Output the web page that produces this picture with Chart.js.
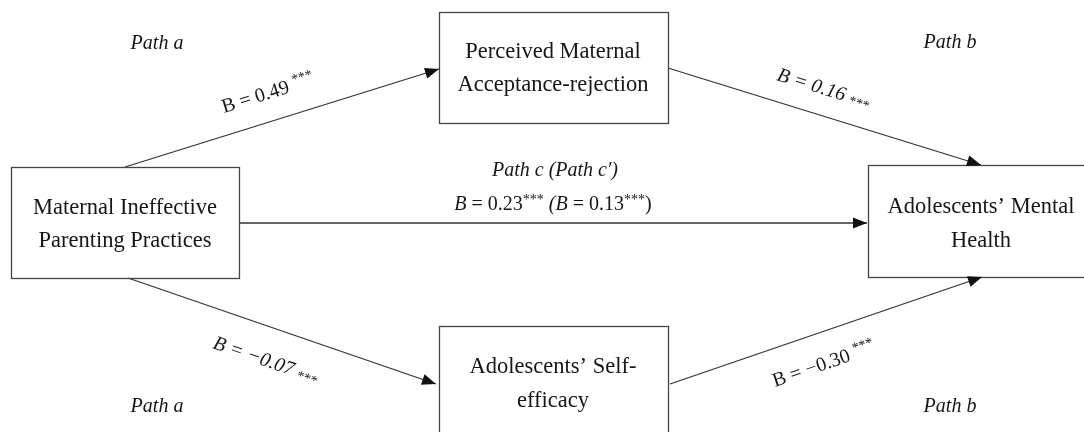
<!DOCTYPE html>
<html>
<head>
<meta charset="utf-8">
<script src="https://cdn.jsdelivr.net/npm/chart.js@4.4.0/dist/chart.umd.min.js"></script>
<style>
html,body{margin:0;padding:0;background:#fff;overflow:hidden;}
#wrap{width:1084px;height:432px;}
</style>
</head>
<body>
<div id="wrap"><canvas id="c" width="1084" height="432"></canvas></div>
<script>
// ---------- DATA ----------
const nodeLabels = [
  ["Maternal Ineffective", "Parenting Practices"],
  ["Perceived Maternal", "Acceptance-rejection"],
  ["Adolescents\u2019 Self-", "efficacy"],
  ["Adolescents\u2019 Mental", "Health"]
];
// edges: a1, b1, a2, b2, c
const pathNames = ["Path a", "Path b", "Path a", "Path b", "Path c (Path c\u2032)"];
const coefficients = [0.49, 0.16, -0.07, -0.30, 0.23];
const directCoefficient = 0.13;
const significance = ["***", "***", "***", "***", "***"];
const edgeFrom = [0, 1, 0, 2, 0];
const edgeTo   = [1, 3, 2, 3, 3];

// ---------- LAYOUT (pixel-space of a 0..1084 x 0..432 scale) ----------
const nodeBoxes = [
  [11, 167, 239, 278],
  [439, 12, 668, 123],
  [439, 326, 668, 437],
  [868, 165, 1096, 277]
];
const nodeTextX = [125, 553, 553, 981];
const nodeTextBaselines = [[214, 247], [58, 91], [373, 407], [213, 247]];
const edgeStart = [[125, 167], [668, 68], [128, 278], [670, 384], [240, 223]];
const edgeEnd   = [[439, 69], [981, 165], [436, 384], [982, 277], [867, 223]];
const pathNamePos = [[157, 49], [950, 48], [157, 412], [950, 412], [555, 176]];
const coefPos = [[224, 113], [776, 80], [212, 348], [775, 387], [553, 210]];
const coefItalicB = [false, true, true, false, true];
const coefItalicNum = [false, true, true, false, false];
const starShift = [-7, 2, 2, -7, -6];

const FONT = '"Liberation Serif", "Times New Roman", serif';
const TEXT_COLOR = '#161616';
const LINE_COLOR = '#333333';

function fmt(v){
  const s = Math.abs(v).toFixed(2);
  return (v < 0 ? '\u2212' : '') + s;
}

const datasets = edgeFrom.map((f, i) => ({
  label: 'edge' + i,
  data: [{x: edgeStart[i][0], y: edgeStart[i][1]}, {x: edgeEnd[i][0], y: edgeEnd[i][1]}],
  showLine: true,
  borderColor: LINE_COLOR,
  borderWidth: 1.3,
  pointRadius: 0,
  fill: false
}));

function drawRuns(ctx, runs, x, y, align){
  let total = 0;
  runs.forEach(r => { ctx.font = r.font; r.w = ctx.measureText(r.t).width; total += r.w; });
  let cx = align === 'center' ? x - total / 2 : x;
  runs.forEach(r => {
    ctx.font = r.font;
    ctx.fillText(r.t, cx, y + (r.dy || 0));
    cx += r.w;
  });
}

const diagramPlugin = {
  id: 'diagram',
  afterDatasetsDraw(chart){
    const ctx = chart.ctx;
    const xs = chart.scales.x, ys = chart.scales.y;
    const px = v => xs.getPixelForValue(v);
    const py = v => ys.getPixelForValue(v);
    ctx.save();
    // boxes
    ctx.strokeStyle = '#444';
    ctx.lineWidth = 1.3;
    nodeBoxes.forEach(b => {
      const x0 = px(b[0]), y0 = py(b[1]), x1 = px(b[2]), y1 = py(b[3]);
      ctx.strokeRect(Math.round(x0) + 0.5, Math.round(y0) + 0.5, Math.round(x1 - x0), Math.round(y1 - y0));
    });
    // arrowheads
    ctx.fillStyle = '#111';
    edgeFrom.forEach((f, i) => {
      const sx = px(edgeStart[i][0]), sy = py(edgeStart[i][1]);
      const ex = px(edgeEnd[i][0]), ey = py(edgeEnd[i][1]);
      const a = Math.atan2(ey - sy, ex - sx);
      const L = 14, W = 5.5;
      ctx.beginPath();
      ctx.moveTo(ex, ey);
      ctx.lineTo(ex - L * Math.cos(a) + W * Math.sin(a), ey - L * Math.sin(a) - W * Math.cos(a));
      ctx.lineTo(ex - L * Math.cos(a) - W * Math.sin(a), ey - L * Math.sin(a) + W * Math.cos(a));
      ctx.closePath();
      ctx.fill();
    });
    // node labels
    ctx.fillStyle = TEXT_COLOR;
    ctx.textBaseline = 'alphabetic';
    ctx.textAlign = 'center';
    ctx.font = '22.5px ' + FONT;
    nodeLabels.forEach((lines, i) => {
      lines.forEach((ln, j) => ctx.fillText(ln, px(nodeTextX[i]), py(nodeTextBaselines[i][j])));
    });
    // path names
    ctx.font = 'italic 20px ' + FONT;
    pathNames.forEach((p, i) => ctx.fillText(p, px(pathNamePos[i][0]), py(pathNamePos[i][1])));
    // coefficients on sloped paths
    ctx.textAlign = 'left';
    const reg = '20px ' + FONT, ita = 'italic 20px ' + FONT, small = '14px ' + FONT;
    for (let i = 0; i < 4; i++) {
      const sx = px(edgeStart[i][0]), sy = py(edgeStart[i][1]);
      const ex = px(edgeEnd[i][0]), ey = py(edgeEnd[i][1]);
      const a = Math.atan2(ey - sy, ex - sx);
      ctx.save();
      ctx.translate(px(coefPos[i][0]), py(coefPos[i][1]));
      ctx.rotate(a);
      const runs = [
        {t: 'B', font: coefItalicB[i] ? ita : reg},
        {t: ' = ' + fmt(coefficients[i]) + ' ', font: coefItalicNum[i] ? ita : reg},
        {t: significance[i], font: small, dy: starShift[i]}
      ];
      drawRuns(ctx, runs, 0, 0, 'left');
      ctx.restore();
    }
    // total / direct effect label
    const runsC = [
      {t: 'B', font: ita},
      {t: ' = ' + fmt(coefficients[4]), font: reg},
      {t: significance[4], font: small, dy: starShift[4]},
      {t: ' (', font: ita},
      {t: 'B', font: ita},
      {t: ' = ' + fmt(directCoefficient), font: reg},
      {t: significance[4], font: small, dy: starShift[4]},
      {t: ')', font: reg}
    ];
    drawRuns(ctx, runsC, px(coefPos[4][0]), py(coefPos[4][1]), 'center');
    ctx.restore();
  }
};

new Chart(document.getElementById('c'), {
  type: 'scatter',
  data: { datasets },
  options: {
    responsive: false,
    animation: false,
    layout: { padding: 0 },
    plugins: { legend: { display: false }, tooltip: { enabled: false } },
    scales: {
      x: { type: 'linear', min: 0, max: 1084, display: false },
      y: { type: 'linear', min: 0, max: 432, reverse: true, display: false }
    },
    elements: { line: { tension: 0 } }
  },
  plugins: [diagramPlugin]
});
</script>
</body>
</html>
